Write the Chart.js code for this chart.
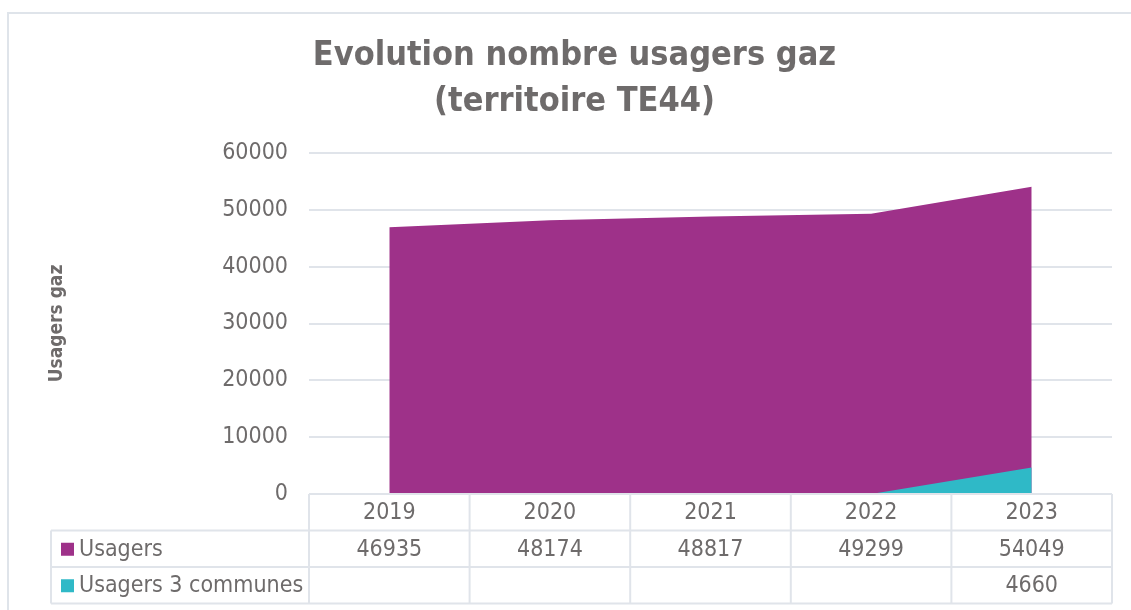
<!DOCTYPE html>
<html>
<head>
<meta charset="utf-8">
<script src="https://cdn.jsdelivr.net/npm/chart.js@4.4.0/dist/chart.umd.min.js"></script>
<style>
  body { margin: 0; background: #fff; }
</style>
</head>
<body>
<canvas id="usagers-chart" width="1131" height="610"></canvas>
<script>
const years = ['2019', '2020', '2021', '2022', '2023']
const usagers = [46935, 48174, 48817, 49299, 54049]
const usagers3Communes = [null, null, null, null, 4660]
const seriesNames = ['Usagers', 'Usagers 3 communes']
const yMax = 60000
const yStep = 10000

const purple = '#9e3189'
const teal = '#2fb9c7'
const textColor = '#6e6b6b'
const lineColor = '#e0e4ea'
const fontFamily = '"DejaVu Sans Condensed"'

Chart.defaults.font.family = fontFamily
Chart.defaults.color = textColor

// light frame around the whole chart, like the excel chart object
const framePlugin = {
    id: 'frame',
    beforeDraw(chart) {
        const ctx = chart.ctx
        ctx.save()
        ctx.strokeStyle = '#dfe4ea'
        ctx.lineWidth = 2
        ctx.strokeRect(8, 13, chart.width + 20, chart.height + 20)
        ctx.restore()
    }
}

// data table under the plot, columns follow the x scale
const dataTablePlugin = {
    id: 'dataTable',
    afterDraw(chart) {
        const { ctx, chartArea, scales: { x } } = chart
        const rowH = 36.5
        const top = chartArea.bottom
        const tableLeft = 51
        const half = (x.getPixelForValue(1) - x.getPixelForValue(0)) / 2
        const edges = years.map((y, i) => x.getPixelForValue(i) - half)
        edges.push(x.getPixelForValue(years.length - 1) + half)
        const right = edges[edges.length - 1]

        ctx.save()
        ctx.strokeStyle = lineColor
        ctx.lineWidth = 2
        const line = (x1, y1, x2, y2) => {
            ctx.beginPath()
            ctx.moveTo(x1, y1)
            ctx.lineTo(x2, y2)
            ctx.stroke()
        }
        line(edges[0], top, right, top)
        for (let r = 1; r <= 3; r++) line(tableLeft, top + r * rowH, right, top + r * rowH)
        edges.forEach(e => line(e, top, e, top + 3 * rowH))
        line(tableLeft, top + rowH, tableLeft, top + 3 * rowH)

        ctx.fillStyle = textColor
        ctx.font = '23px ' + fontFamily
        ctx.textAlign = 'center'
        ctx.textBaseline = 'middle'
        years.forEach((y, i) => ctx.fillText(y, x.getPixelForValue(i), top + rowH / 2 + 1))

        const rows = [usagers, usagers3Communes]
        const colors = [purple, teal]
        rows.forEach((vals, r) => {
            const cy = top + (r + 1.5) * rowH + 1
            vals.forEach((v, i) => {
                if (v !== null) ctx.fillText(String(v), x.getPixelForValue(i), cy)
            })
            ctx.fillStyle = colors[r]
            ctx.fillRect(tableLeft + 10, cy - 7, 13, 13)
            ctx.fillStyle = textColor
            ctx.textAlign = 'left'
            ctx.fillText(seriesNames[r], tableLeft + 28, cy)
            ctx.textAlign = 'center'
        })
        ctx.restore()
    }
}

const ctx = document.getElementById('usagers-chart').getContext('2d')
new Chart(ctx, {
    type: 'line',
    data: {
        labels: years,
        datasets: [
            {
                label: seriesNames[0],
                data: usagers,
                backgroundColor: purple,
                borderWidth: 0,
                pointRadius: 0,
                fill: 'origin',
                order: 2
            },
            {
                // excel draws the empty cells as zero in an area chart
                label: seriesNames[1],
                data: usagers3Communes.map(v => v ?? 0),
                backgroundColor: teal,
                borderWidth: 0,
                pointRadius: 0,
                fill: 'origin',
                order: 1
            }
        ]
    },
    options: {
        responsive: false,
        animation: false,
        layout: { padding: { top: 14, left: 37, right: 19, bottom: 0 } },
        elements: { line: { tension: 0 } },
        plugins: {
            legend: { display: false },
            tooltip: { enabled: false },
            title: {
                display: true,
                text: ['Evolution nombre usagers gaz', '(territoire TE44)'],
                color: textColor,
                font: { size: 34, weight: 'bold', lineHeight: 46 / 34 },
                padding: { top: 19, bottom: 28 }
            }
        },
        scales: {
            x: {
                offset: true,
                grid: { display: false },
                border: { display: false },
                ticks: { display: false },
                afterFit: (scale) => { scale.height = 116 }
            },
            y: {
                min: 0,
                max: yMax,
                ticks: {
                    stepSize: yStep,
                    font: { size: 23 },
                    color: textColor,
                    padding: 21,
                    callback: (v) => String(v)
                },
                grid: { color: lineColor, lineWidth: 2, drawTicks: false },
                border: { display: false },
                title: {
                    display: true,
                    text: 'Usagers gaz',
                    color: textColor,
                    font: { size: 19, weight: 'bold' },
                    padding: { top: 9, bottom: 0 }
                },
                afterFit: (scale) => { scale.width = 272 }
            }
        }
    },
    plugins: [framePlugin, dataTablePlugin]
});
</script>
</body>
</html>
